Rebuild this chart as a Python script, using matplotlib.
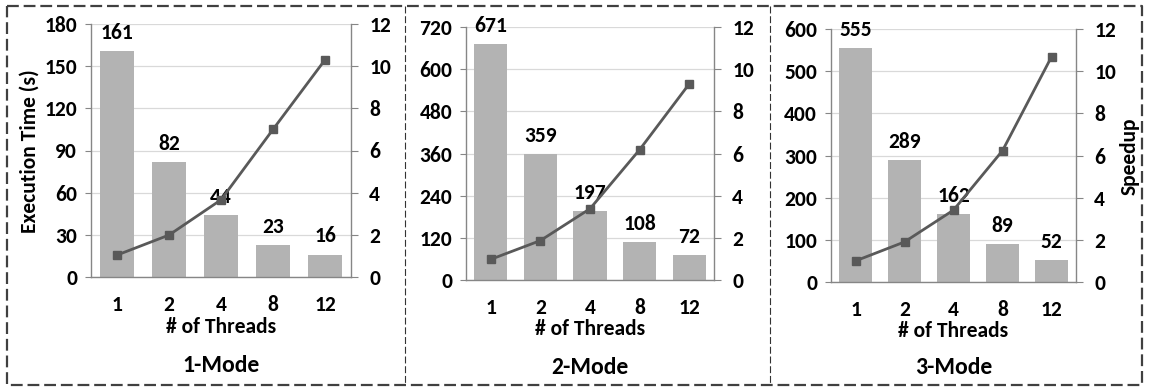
import matplotlib
matplotlib.use("Agg")
import matplotlib.pyplot as plt
from matplotlib.lines import Line2D

plt.rcParams["font.family"] = ["Carlito", "DejaVu Sans"]
plt.rcParams["font.weight"] = "bold"
plt.rcParams["lines.scale_dashes"] = False

# data
threads = ["1", "2", "4", "8", "12"]
modes = ["1-Mode", "2-Mode", "3-Mode"]
time_1mode = [161, 82, 44, 23, 16]
time_2mode = [671, 359, 197, 108, 72]
time_3mode = [555, 289, 162, 89, 52]
speedup_1mode = [1.04, 1.99, 3.66, 7.0, 10.3]
speedup_2mode = [0.98, 1.87, 3.38, 6.18, 9.3]
speedup_3mode = [1.0, 1.9, 3.41, 6.23, 10.68]
time_max = [180, 720, 600]
time_step = [30, 120, 100]

W, H = 1150, 387
BAR_COLOR = "#b3b3b3"
LINE_COLOR = "#595959"
SPINE_COLOR = "#868686"
GRID_COLOR = "#d9d9d9"
FS = 15.5

# plot areas in pixels: left, right, top, bottom
boxes = [(91, 351, 24, 277), (466, 714, 27, 280), (831, 1076, 29, 282)]
xlabel_y = [327, 329, 331]
title_y = [366, 368, 368]

fig = plt.figure(figsize=(W / 100, H / 100), dpi=100)

times = [time_1mode, time_2mode, time_3mode]
speedups = [speedup_1mode, speedup_2mode, speedup_3mode]

for i, (l, r, t, b) in enumerate(boxes):
    ax = fig.add_axes([l / W, 1 - b / H, (r - l) / W, (b - t) / H])
    x = list(range(len(threads)))
    bars = ax.bar(x, times[i], width=0.67, color=BAR_COLOR, zorder=2)
    ax.set_xlim(-0.5, len(threads) - 0.5)
    ax.set_ylim(0, time_max[i])
    ax.set_yticks(range(0, time_max[i] + 1, time_step[i]))
    ax.set_xticks(x)
    ax.set_xticklabels(threads)
    ax.yaxis.grid(True, color=GRID_COLOR, lw=0.9, zorder=0)
    ax.set_axisbelow(True)
    for s in ["top", "right"]:
        ax.spines[s].set_visible(False)
    for s in ["left", "bottom"]:
        ax.spines[s].set_color(SPINE_COLOR)
        ax.spines[s].set_linewidth(1.0)
    ax.tick_params(axis="y", direction="out", length=4, color=SPINE_COLOR,
                   labelsize=FS, pad=6)
    ax.tick_params(axis="x", length=0, labelsize=FS, pad=13)
    for bar, v in zip(bars, times[i]):
        ax.annotate(str(v), (bar.get_x() + bar.get_width() / 2, v),
                    xytext=(0, 13), textcoords="offset points",
                    ha="center", va="center", fontsize=FS, fontweight="bold")

    ax2 = ax.twinx()
    ax2.plot(x, speedups[i], color=LINE_COLOR, lw=2.0, marker="s",
             markersize=6, zorder=3)
    ax2.set_ylim(0, 12)
    ax2.set_yticks(range(0, 13, 2))
    for s in ["top", "left", "bottom"]:
        ax2.spines[s].set_visible(False)
    ax2.spines["right"].set_color(SPINE_COLOR)
    ax2.spines["right"].set_linewidth(1.0)
    ax2.tick_params(axis="y", direction="out", length=5, color=SPINE_COLOR,
                    labelsize=FS, pad=8)

    cx = (l + r) / 2 / W
    fig.text(cx, 1 - xlabel_y[i] / H, "# of Threads", ha="center", va="center",
             fontsize=FS, fontweight="bold")
    fig.text(cx, 1 - title_y[i] / H, modes[i], ha="center", va="center",
             fontsize=17, fontweight="bold")

fig.text(30 / W, 1 - 151 / H, "Execution Time (s)", rotation=90,
         ha="center", va="center", fontsize=FS, fontweight="bold")
fig.text(1130 / W, 1 - 156 / H, "Speedup", rotation=90,
         ha="center", va="center", fontsize=FS, fontweight="bold")

# dashed frame around the whole figure
x0, x1, y0, y1 = 7 / W, 1142 / W, 1 - 6 / H, 1 - 385 / H
fig.add_artist(Line2D([x0, x1, x1, x0, x0], [y0, y0, y1, y1, y0],
                      transform=fig.transFigure, color="#404040", lw=1.6,
                      linestyle=(0, (8.5, 3.5))))
# thin dividers between panels
for xd in [404.5, 769.5]:
    fig.add_artist(Line2D([xd / W, xd / W], [y0, y1], transform=fig.transFigure,
                          color="#333333", lw=0.8, linestyle=(0, (5, 2))))

fig.savefig("out.png", dpi=100)
